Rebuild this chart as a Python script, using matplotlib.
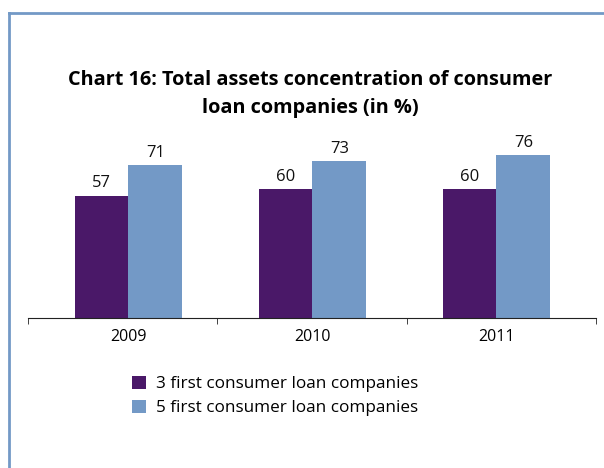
import numpy as np
import matplotlib.pyplot as plt
from matplotlib.lines import Line2D

years = ['2009', '2010', '2011']
top3 = [57, 60, 60]
top5 = [71, 73, 76]
labels = ['3 first consumer loan companies', '5 first consumer loan companies']

purple = '#4a1868'
blue = '#7399c6'

plt.rcParams['font.family'] = ['Open Sans', 'DejaVu Sans']

fig = plt.figure(figsize=(6.04, 4.68), dpi=100)
ax = fig.add_axes([28 / 604, 1 - 318 / 468, 568 / 604, 0.459])

x = np.arange(len(years))
w = 0.293
b1 = ax.bar(x - w / 2, top3, w, color=purple, label=labels[0])
b2 = ax.bar(x + w / 2, top5, w, color=blue, label=labels[1])

for bars in (b1, b2):
    for r in bars:
        ax.annotate(f'{r.get_height():.0f}', (r.get_x() + r.get_width() / 2, r.get_height()),
                    xytext=(0, 3), textcoords='offset points', ha='center', va='bottom',
                    fontsize=12, color='#111111')

# category edges (Excel-style ticks between the groups)
edges = [-0.546, 0.481, 1.514, 2.541]
ax.set_xlim(edges[0], edges[-1])
ax.set_ylim(0, 100)
ax.set_xticks(x)
ax.set_xticklabels(years, fontsize=11.5)
ax.set_xticks(edges, minor=True)
ax.tick_params(axis='x', which='major', length=0, pad=8)
ax.tick_params(axis='x', which='minor', length=4, direction='out', color='#222222')
ax.set_yticks([])
for s in ['left', 'right', 'top']:
    ax.spines[s].set_visible(False)
ax.spines['bottom'].set_color('#222222')

fig.text(0.513, 1 - 94 / 468, 'Chart 16: Total assets concentration of consumer\nloan companies (in %)',
         ha='center', va='center', fontsize=14.3, fontweight='bold', linespacing=1.48)

fig.legend(handles=[b1, b2], loc='upper left', bbox_to_anchor=(0.205, 1 - 367 / 468),
           frameon=False, fontsize=12.3, handlelength=0.8, handleheight=0.8,
           handletextpad=0.6, labelspacing=0.45, borderpad=0)

# frame of the page box
fig.add_artist(Line2D([9 / 604, 9 / 604], [0, 1 - 13 / 468], color=blue, lw=2))
fig.add_artist(Line2D([9 / 604, 1], [1 - 13 / 468, 1 - 13 / 468], color=blue, lw=2))

fig.savefig('out.png', dpi=100)
